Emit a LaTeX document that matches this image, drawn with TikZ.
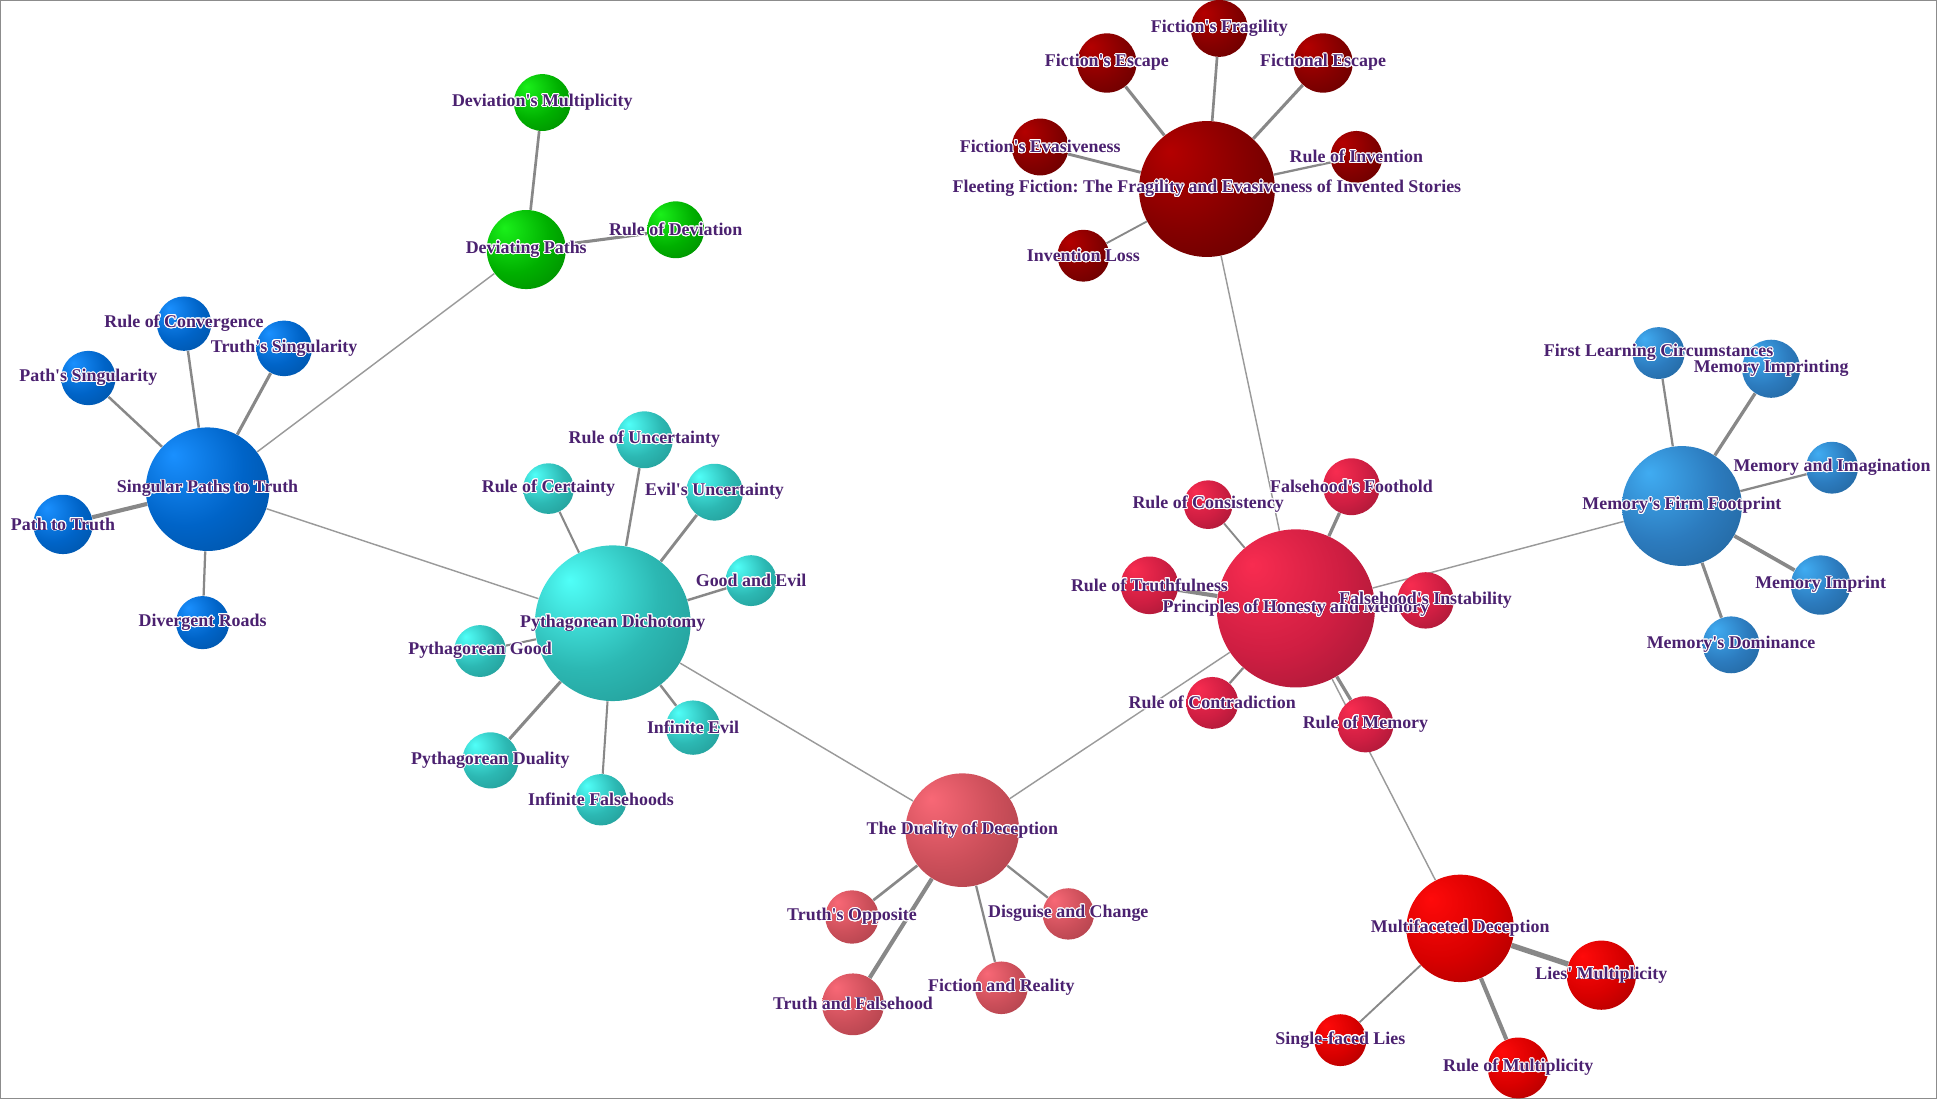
\documentclass[tikz,border=0pt]{standalone}
\usepackage{fontspec}
\newfontfamily\labfont{Liberation Serif}
\usepackage[copies]{contour}
\usetikzlibrary{backgrounds}
\contourlength{0.45pt}
\contournumber{20}
\frenchspacing

\definecolor{labtxt}{HTML}{4B2170}
\definecolor{edgegray}{HTML}{888888}
\definecolor{linkgray}{HTML}{9A9A9A}
\definecolor{framegray}{HTML}{8C8C8C}
\definecolor{fichi}{HTML}{B40000}\definecolor{ficlo}{HTML}{850000}\definecolor{ficdk}{HTML}{580000}
\definecolor{grnhi}{HTML}{1AF01A}\definecolor{grnlo}{HTML}{00B000}\definecolor{grndk}{HTML}{007800}
\definecolor{snghi}{HTML}{1A90FF}\definecolor{snglo}{HTML}{0064C8}\definecolor{sngdk}{HTML}{004A94}
\definecolor{cynhi}{HTML}{50FFF8}\definecolor{cynlo}{HTML}{2CB8B3}\definecolor{cyndk}{HTML}{1E8A86}
\definecolor{salhi}{HTML}{F86876}\definecolor{sallo}{HTML}{CC4F5A}\definecolor{saldk}{HTML}{9E3A44}
\definecolor{crmhi}{HTML}{F82C50}\definecolor{crmlo}{HTML}{CF1E42}\definecolor{crmdk}{HTML}{8E1530}
\definecolor{memhi}{HTML}{40ACF2}\definecolor{memlo}{HTML}{2C7BBE}\definecolor{memdk}{HTML}{1E5A8C}
\definecolor{rdhi}{HTML}{FF0A0A}\definecolor{rdlo}{HTML}{D80000}\definecolor{rddk}{HTML}{980000}

\colorlet{sphhi}{white}\colorlet{sphlo}{gray}\colorlet{sphdk}{black}
\pgfdeclareradialshading[sphhi,sphlo,sphdk]{sphere}{\pgfpoint{-14bp}{14bp}}{color(0bp)=(sphhi); color(24bp)=(sphlo); color(50bp)=(sphdk); color(72bp)=(sphdk)}

\newcommand{\halo}[1]{\contour{white}{#1}}

\tikzset{
	bub/.style={circle, inner sep=0pt, minimum size=#1*1.2pt},
	tint/.style n args={3}{/utils/exec={\colorlet{sphhi}{#1}\colorlet{sphlo}{#2}\colorlet{sphdk}{#3}}, shading=sphere},
	fic/.style={bub=#1, tint={fichi}{ficlo}{ficdk}},
	grn/.style={bub=#1, tint={grnhi}{grnlo}{grndk}},
	sng/.style={bub=#1, tint={snghi}{snglo}{sngdk}},
	cyn/.style={bub=#1, tint={cynhi}{cynlo}{cyndk}},
	sal/.style={bub=#1, tint={salhi}{sallo}{saldk}},
	crm/.style={bub=#1, tint={crmhi}{crmlo}{crmdk}},
	mem/.style={bub=#1, tint={memhi}{memlo}{memdk}},
	rd/.style={bub=#1, tint={rdhi}{rdlo}{rddk}},
	tie/.style={draw=edgegray, line width=#1pt},
	link/.style={draw=linkgray, line width=0.7pt},
	lbl/.style={text=labtxt, inner sep=0pt, font=\labfont\bfseries\fontsize{8.7}{10}\selectfont},
}

\begin{document}
\begin{tikzpicture}[x=0.6pt,y=-0.6pt]
	\useasboundingbox (0,0) rectangle (1568,890);
	\draw[framegray, line width=0.6pt] (0.5,0.5) rectangle (1567.5,889.5);

	\node[fic=55] (fleet) at (977,153) {};
	\node[fic=23] (fragil) at (987,23) {};
	\node[fic=24] (fescape) at (896,51) {};
	\node[fic=24] (fictesc) at (1071,51) {};
	\node[fic=23] (evasive) at (842,119) {};
	\node[fic=21] (invrule) at (1098,127) {};
	\node[fic=21] (invloss) at (877,207) {};

	\node[grn=32] (deviate) at (426,202) {};
	\node[grn=23] (devmult) at (439,83) {};
	\node[grn=23] (devrule) at (547,186) {};

	\node[sng=50] (singular) at (168,396) {};
	\node[sng=22] (converge) at (149,262) {};
	\node[sng=22.5] (truthsing) at (230,282) {};
	\node[sng=22] (pathsing) at (71.5,306) {};
	\node[sng=24] (pathtruth) at (51,424.5) {};
	\node[sng=21.5] (divroads) at (164,504) {};

	\node[cyn=63] (pyth) at (496,504.5) {};
	\node[cyn=23] (uncert) at (521.6,356) {};
	\node[cyn=20.5] (certain) at (444,395.5) {};
	\node[cyn=23] (evilunc) at (578.4,398.4) {};
	\node[cyn=20.6] (goodevil) at (608,470) {};
	\node[cyn=21] (pythgood) at (388.6,527) {};
	\node[cyn=22.7] (pythdual) at (397,615.5) {};
	\node[cyn=20.8] (inffalse) at (486.5,647.4) {};
	\node[cyn=22] (infevil) at (561,589) {};

	\node[sal=46] (duality) at (779,672) {};
	\node[sal=21.6] (truthopp) at (689.7,742.3) {};
	\node[sal=25] (truthfals) at (690.5,813) {};
	\node[sal=20.8] (disguise) at (864.8,739.8) {};
	\node[sal=21.3] (fictreal) at (810.6,799.6) {};

	\node[crm=64] (honesty) at (1049,492.5) {};
	\node[crm=19.7] (consist) at (978,408.5) {};
	\node[crm=23] (foothold) at (1094,394) {};
	\node[crm=23.3] (truthful) at (930.5,473.8) {};
	\node[crm=22.8] (instab) at (1154,486) {};
	\node[crm=21] (contra) at (981.3,569) {};
	\node[crm=22.7] (memrule) at (1105.3,586.3) {};

	\node[mem=48.5] (footprint) at (1361.5,409.6) {};
	\node[mem=21] (firstlearn) at (1342.6,285.8) {};
	\node[mem=23.5] (imprinting) at (1433.7,298.5) {};
	\node[mem=21] (imagin) at (1483,378.6) {};
	\node[mem=24] (imprint) at (1473.8,473.6) {};
	\node[mem=23] (dominance) at (1401.3,522) {};

	\node[rd=43.5] (multi) at (1182,751.5) {};
	\node[rd=28] (liesmult) at (1296.3,789.4) {};
	\node[rd=21] (single) at (1085,842) {};
	\node[rd=24.6] (multrule) at (1229,864.5) {};

	\begin{scope}[on background layer]
		\draw[link] (singular) -- (deviate);
		\draw[link] (singular) -- (pyth);
		\draw[link] (pyth) -- (duality);
		\draw[link] (duality) -- (honesty);
		\draw[link] (honesty) -- (fleet);
		\draw[link] (honesty) -- (footprint);
		\draw[link] (honesty) -- (multi);

		\draw[tie=1.3] (fleet) -- (fragil);
		\draw[tie=1.5] (fleet) -- (fescape);
		\draw[tie=1.5] (fleet) -- (fictesc);
		\draw[tie=1.4] (fleet) -- (evasive);
		\draw[tie=1.1] (fleet) -- (invrule);
		\draw[tie=0.9] (fleet) -- (invloss);

		\draw[tie=1.3] (deviate) -- (devmult);
		\draw[tie=1.5] (deviate) -- (devrule);

		\draw[tie=1.2] (singular) -- (converge);
		\draw[tie=1.5] (singular) -- (truthsing);
		\draw[tie=1.2] (singular) -- (pathsing);
		\draw[tie=2.0] (singular) -- (pathtruth);
		\draw[tie=1.1] (singular) -- (divroads);

		\draw[tie=1.2] (pyth) -- (uncert);
		\draw[tie=1.0] (pyth) -- (certain);
		\draw[tie=1.4] (pyth) -- (evilunc);
		\draw[tie=1.2] (pyth) -- (goodevil);
		\draw[tie=1.0] (pyth) -- (pythgood);
		\draw[tie=1.5] (pyth) -- (pythdual);
		\draw[tie=1.0] (pyth) -- (inffalse);
		\draw[tie=1.2] (pyth) -- (infevil);

		\draw[tie=1.3] (duality) -- (truthopp);
		\draw[tie=2.0] (duality) -- (truthfals);
		\draw[tie=1.1] (duality) -- (disguise);
		\draw[tie=1.1] (duality) -- (fictreal);

		\draw[tie=0.9] (honesty) -- (consist);
		\draw[tie=1.6] (honesty) -- (foothold);
		\draw[tie=2.0] (honesty) -- (truthful);
		\draw[tie=1.0] (honesty) -- (instab);
		\draw[tie=1.1] (honesty) -- (contra);
		\draw[tie=1.6] (honesty) -- (memrule);

		\draw[tie=1.1] (footprint) -- (firstlearn);
		\draw[tie=1.6] (footprint) -- (imprinting);
		\draw[tie=1.1] (footprint) -- (imagin);
		\draw[tie=1.8] (footprint) -- (imprint);
		\draw[tie=1.5] (footprint) -- (dominance);

		\draw[tie=2.6] (multi) -- (liesmult);
		\draw[tie=0.9] (multi) -- (single);
		\draw[tie=2.0] (multi) -- (multrule);
	\end{scope}

	\node[lbl] (fleet-l) at (fleet) {\halo{Fleeting Fiction: The Fragility and Evasiveness of Invented Stories}};
	\node[lbl] (fragil-l) at (fragil) {\halo{Fiction's Fragility}};
	\node[lbl] (fescape-l) at (fescape) {\halo{Fiction's Escape}};
	\node[lbl] (fictesc-l) at (fictesc) {\halo{Fictional Escape}};
	\node[lbl] (evasive-l) at (evasive) {\halo{Fiction's Evasiveness}};
	\node[lbl] (invrule-l) at (invrule) {\halo{Rule of Invention}};
	\node[lbl] (invloss-l) at (invloss) {\halo{Invention Loss}};

	\node[lbl] (deviate-l) at (deviate) {\halo{Deviating Paths}};
	\node[lbl] (devmult-l) at (devmult) {\halo{Deviation's Multiplicity}};
	\node[lbl] (devrule-l) at (devrule) {\halo{Rule of Deviation}};

	\node[lbl] (singular-l) at (singular) {\halo{Singular Paths to Truth}};
	\node[lbl] (converge-l) at (converge) {\halo{Rule of Convergence}};
	\node[lbl] (truthsing-l) at (truthsing) {\halo{Truth's Singularity}};
	\node[lbl] (pathsing-l) at (pathsing) {\halo{Path's Singularity}};
	\node[lbl] (pathtruth-l) at (pathtruth) {\halo{Path to Truth}};
	\node[lbl] (divroads-l) at (divroads) {\halo{Divergent Roads}};

	\node[lbl] (pyth-l) at (pyth) {\halo{Pythagorean Dichotomy}};
	\node[lbl] (uncert-l) at (uncert) {\halo{Rule of Uncertainty}};
	\node[lbl] (certain-l) at (certain) {\halo{Rule of Certainty}};
	\node[lbl] (evilunc-l) at (evilunc) {\halo{Evil's Uncertainty}};
	\node[lbl] (goodevil-l) at (goodevil) {\halo{Good and Evil}};
	\node[lbl] (pythgood-l) at (pythgood) {\halo{Pythagorean Good}};
	\node[lbl] (pythdual-l) at (pythdual) {\halo{Pythagorean Duality}};
	\node[lbl] (inffalse-l) at (inffalse) {\halo{Infinite Falsehoods}};
	\node[lbl] (infevil-l) at (infevil) {\halo{Infinite Evil}};

	\node[lbl] (duality-l) at (duality) {\halo{The Duality of Deception}};
	\node[lbl] (truthopp-l) at (truthopp) {\halo{Truth's Opposite}};
	\node[lbl] (truthfals-l) at (truthfals) {\halo{Truth and Falsehood}};
	\node[lbl] (disguise-l) at (disguise) {\halo{Disguise and Change}};
	\node[lbl] (fictreal-l) at (fictreal) {\halo{Fiction and Reality}};

	\node[lbl] (honesty-l) at (honesty) {\halo{Principles of Honesty and Memory}};
	\node[lbl] (consist-l) at (consist) {\halo{Rule of Consistency}};
	\node[lbl] (foothold-l) at (foothold) {\halo{Falsehood's Foothold}};
	\node[lbl] (truthful-l) at (truthful) {\halo{Rule of Truthfulness}};
	\node[lbl] (instab-l) at (instab) {\halo{Falsehood's Instability}};
	\node[lbl] (contra-l) at (contra) {\halo{Rule of Contradiction}};
	\node[lbl] (memrule-l) at (memrule) {\halo{Rule of Memory}};

	\node[lbl] (footprint-l) at (footprint) {\halo{Memory's Firm Footprint}};
	\node[lbl] (firstlearn-l) at (firstlearn) {\halo{First Learning Circumstances}};
	\node[lbl] (imprinting-l) at (imprinting) {\halo{Memory Imprinting}};
	\node[lbl] (imagin-l) at (imagin) {\halo{Memory and Imagination}};
	\node[lbl] (imprint-l) at (imprint) {\halo{Memory Imprint}};
	\node[lbl] (dominance-l) at (dominance) {\halo{Memory's Dominance}};

	\node[lbl] (multi-l) at (multi) {\halo{Multifaceted Deception}};
	\node[lbl] (liesmult-l) at (liesmult) {\halo{Lies' Multiplicity}};
	\node[lbl] (single-l) at (single) {\halo{Single-faced Lies}};
	\node[lbl] (multrule-l) at (multrule) {\halo{Rule of Multiplicity}};
\end{tikzpicture}
\end{document}
